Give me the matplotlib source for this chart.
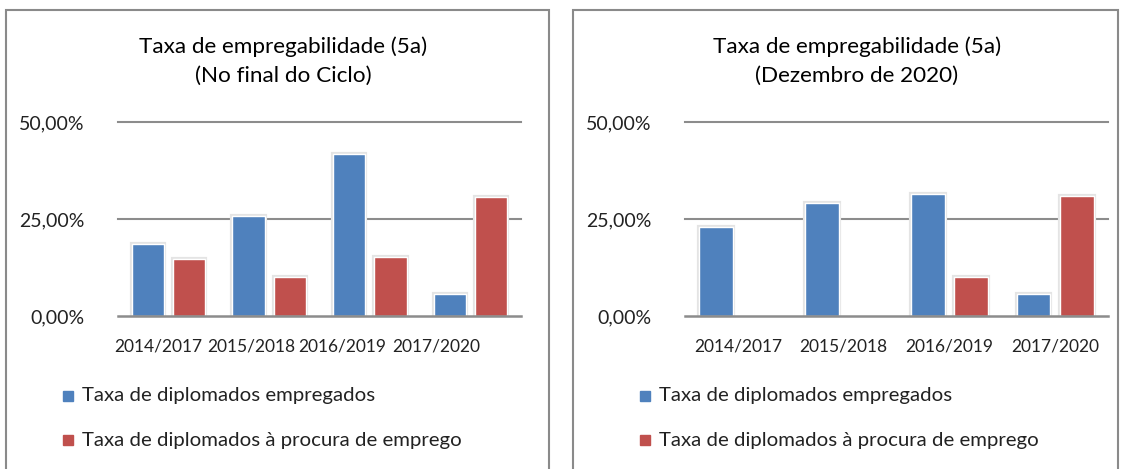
import matplotlib
matplotlib.use('Agg')
import matplotlib.pyplot as plt
import matplotlib.patheffects as pe
from matplotlib.patches import Rectangle
import numpy as np

plt.rcParams['font.family'] = ['Lato', 'DejaVu Sans']

categories = ['2014/2017', '2015/2018', '2016/2019', '2017/2020']
series_names = ['Taxa de diplomados empregados',
                'Taxa de diplomados à procura de emprego']
yticks = [0, 25, 50]
ytick_labels = ['0,00%', '25,00%', '50,00%']

# painel 1: no final do ciclo
empregados_final = [18.5, 25.8, 41.8, 5.6]
procura_final = [14.7, 10.1, 15.3, 30.7]
# painel 2: dezembro de 2020
empregados_dez = [22.9, 29.1, 31.5, 5.7]
procura_dez = [0.0, 0.0, 10.1, 30.9]

titles = ['Taxa de empregabilidade (5a)\n(No final do Ciclo)',
          'Taxa de empregabilidade (5a)\n(Dezembro de 2020)']

BLUE = '#4F81BD'
RED = '#C0504D'
GRID = '#8c8c8c'
W, H = 1124, 469

fig = plt.figure(figsize=(W / 100, H / 100), dpi=100)

def fx(px):
    return px / W

def fy(py):
    return 1 - py / H

# panel layout in pixels: border left/right, axes left/right, title x, legend x, tick positions
panels = [
    (6, 549, 118, 521, 283, 63, [-0.10, 0.82, 1.73, 2.66]),
    (573, 1118, 685, 1108, 857, 640, [0, 1, 2, 3]),
]
data = [(empregados_final, procura_final), (empregados_dez, procura_dez)]

for (bl, br, al, ar, tx, lx, tickpos), (emp, proc), title in zip(panels, data, titles):
    fig.patches.append(Rectangle((fx(bl), fy(480)), fx(br - bl), fy(10) - fy(480),
                                 transform=fig.transFigure, fill=False,
                                 edgecolor='#8a8a8a', linewidth=1.5))
    ax = fig.add_axes([fx(al), fy(316), fx(ar - al), fy(122) - fy(316)])
    x = np.arange(len(categories))
    bw = 0.32
    glow = [pe.Stroke(linewidth=3.0, foreground='#e4e4e4'), pe.Normal()]
    b1 = ax.bar(x - 0.045 - bw / 2, emp, bw, color=BLUE, edgecolor='white',
                linewidth=1.0, zorder=3)
    b2 = ax.bar(x + 0.045 + bw / 2, proc, bw, color=RED, edgecolor='white',
                linewidth=1.0, zorder=3)
    for b in list(b1) + list(b2):
        if b.get_height() > 0:
            b.set_path_effects(glow)
        else:
            b.set_visible(False)
    ax.set_xlim(-0.5, 3.5)
    ax.set_ylim(0, 50)
    ax.set_yticks(yticks)
    ax.set_yticklabels(ytick_labels, fontsize=14, color='#222222')
    ax.set_xticks(tickpos)
    ax.set_xticklabels(categories, fontsize=12.5, color='#222222')
    ax.tick_params(axis='both', length=0)
    ax.tick_params(axis='y', pad=24)
    ax.tick_params(axis='x', pad=16)
    for s in ['top', 'right', 'left']:
        ax.spines[s].set_visible(False)
    ax.spines['bottom'].set_color(GRID)
    ax.spines['bottom'].set_linewidth(1.8)
    ax.spines['bottom'].set_zorder(4)
    for yv in yticks[1:]:
        ax.axhline(yv, color=GRID, linewidth=1.5, zorder=1, clip_on=False)
    ax.set_facecolor('none')

    line1, line2 = title.split('\n')
    fig.text(fx(tx), fy(47), line1, ha='center', va='center',
             fontsize=16.2, color='black')
    fig.text(fx(tx), fy(76), line2, ha='center', va='center',
             fontsize=16.2, color='black')

    for i, (name, col) in enumerate(zip(series_names, [BLUE, RED])):
        yy = 396 + 44 * i
        fig.patches.append(Rectangle((fx(lx), fy(yy + 5)), fx(10), fy(yy - 5) - fy(yy + 5),
                                     transform=fig.transFigure, color=col))
        fig.text(fx(lx + 19), fy(yy), name, ha='left', va='center',
                 fontsize=14.7, color='#222222')

fig.savefig('out.png', dpi=100, facecolor='white')
